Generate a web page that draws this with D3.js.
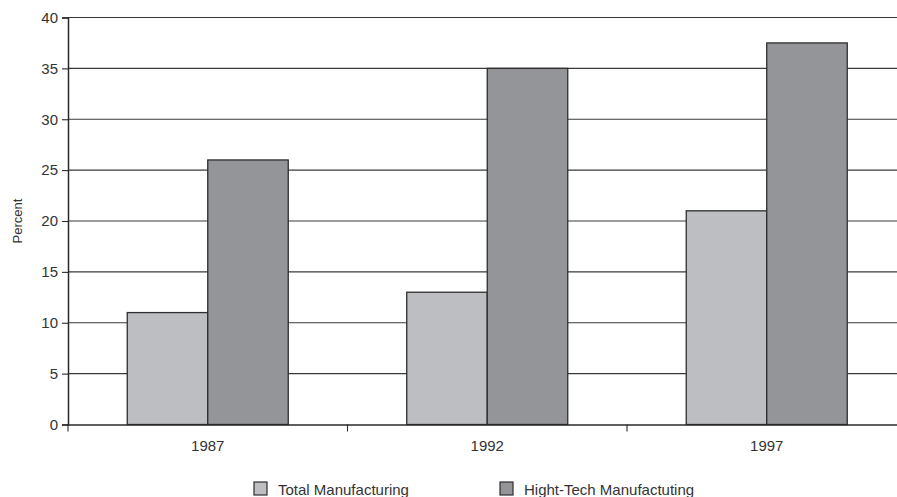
<!DOCTYPE html>
<html><head><meta charset="utf-8">
<script src="https://cdn.jsdelivr.net/npm/d3@7"></script>
<style>body{margin:0;background:#fff}svg{display:block}text{font-family:"Liberation Sans",Arial,sans-serif;fill:#333}</style>
</head><body><svg id="c" width="897" height="497"></svg>
<script>
const years = ["1987","1992","1997"];
const seriesNames = ["Total Manufacturing","Hight-Tech Manufactuting"];
const totalManufacturing = [11, 13, 21];
const highTech = [26, 35, 37.5];
const yTicks = [0,5,10,15,20,25,30,35,40];
const colors = ["#bdbec1","#949598"];

const svg = d3.select("#c");
const mLeft = 68, mRight = 906.5, mTop = 17.5, mBottom = 424.5;
const x = d3.scaleBand().domain(years).range([mLeft, mRight]);
const y = d3.scaleLinear().domain([0,40]).range([mBottom, mTop]);
const sub = d3.scaleBand().domain([0,1]).range([0, 161]);

// gridlines
svg.append("g").selectAll("line").data(yTicks.filter(d=>d>0)).join("line")
  .attr("x1", mLeft).attr("x2", 897).attr("y1", d=>y(d)).attr("y2", d=>y(d))
  .attr("stroke", "#3a3a3a").attr("stroke-width", 1.1);

// bars
const data = years.map((yr,i)=>({yr, vals:[totalManufacturing[i], highTech[i]]}));
const g = svg.append("g").selectAll("g").data(data).join("g")
  .attr("transform", d=>`translate(${x(d.yr)+x.bandwidth()/2-80.5},0)`);
g.selectAll("rect").data(d=>d.vals).join("rect")
  .attr("x", (d,i)=>sub(i)).attr("width", sub.bandwidth())
  .attr("y", d=>y(d)).attr("height", d=>mBottom-y(d))
  .attr("fill", (d,i)=>colors[i]).attr("stroke", "#2e2e2e").attr("stroke-width", 1.3);

// y axis
const ya = svg.append("g").attr("transform", `translate(${mLeft},0)`)
  .call(d3.axisLeft(y).tickValues(yTicks).tickSize(6).tickPadding(4));
ya.select(".domain").attr("stroke","#2a2a2a").attr("stroke-width",1.5);
ya.selectAll(".tick line").attr("stroke","#2a2a2a").attr("stroke-width",1.1);
ya.selectAll(".tick text").style("font-size","15px").attr("fill","#333").style("font-family","'Liberation Sans',Arial,sans-serif");

// x axis
const xa = svg.append("g").attr("transform", `translate(0,${mBottom})`)
  .call(d3.axisBottom(x).tickSize(0).tickPadding(16));
xa.select(".domain").attr("stroke","#2a2a2a").attr("stroke-width",1.5);
xa.selectAll(".tick text").style("font-size","15px").attr("fill","#333").style("font-family","'Liberation Sans',Arial,sans-serif");
// boundary ticks
const bounds = years.map(d=>x(d)).concat([mRight]);
svg.append("g").selectAll("line").data(bounds).join("line")
  .attr("x1", d=>d).attr("x2", d=>d).attr("y1", mBottom).attr("y2", mBottom+7)
  .attr("stroke","#2a2a2a").attr("stroke-width",1.1);

// y label
svg.append("text").attr("transform","translate(22,221) rotate(-90)")
  .attr("text-anchor","middle").style("font-size","13px").text("Percent");

// legend
const legX = [254, 500];
const lg = svg.append("g").selectAll("g").data(seriesNames).join("g")
  .attr("transform",(d,i)=>`translate(${legX[i]},482)`);
lg.append("rect").attr("width",13).attr("height",13).attr("fill",(d,i)=>colors[i])
  .attr("stroke","#2e2e2e").attr("stroke-width",1.2);
lg.append("text").attr("x",24).attr("y",12.5).style("font-size","15px").text(d=>d);
</script></body></html>
